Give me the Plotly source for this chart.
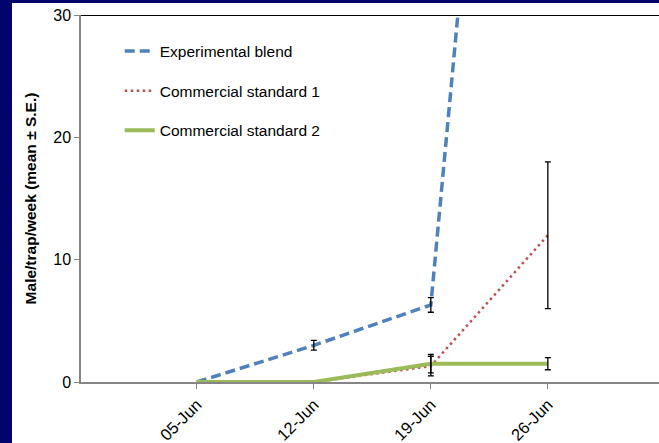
import plotly.graph_objects as go

# Weekly trap catches (mean ± S.E.) for three lures
dates = ["05-Jun", "12-Jun", "19-Jun", "26-Jun"]
experimental = [0.0, 3.0, 6.3, 109.0]
experimental_se = [None, 0.4, 0.6, None]
standard1 = [0.0, 0.0, 1.3, 12.0]
standard1_se = [None, None, 0.8, 6.0]
standard2 = [0.0, 0.0, 1.5, 1.5]
standard2_se = [None, None, 0.75, 0.5]

names = ["Experimental blend", "Commercial standard 1", "Commercial standard 2"]
colors = ["#4F81BD", "#C0504D", "#9BBB59"]
widths = [3.5, 2.5, 4]
dashes = ["10px,5px", "2.5px,3.5px", "solid"]

FONT = "Arial, Liberation Sans, sans-serif"
xpos = list(range(len(dates)))

fig = go.Figure()
series = [(experimental, experimental_se), (standard1, standard1_se), (standard2, standard2_se)]
for i, (vals, se) in enumerate(series):
    fig.add_trace(go.Scatter(
        x=xpos, y=vals, mode="lines", name=names[i],
        legendgroup=names[i],
        line=dict(color=colors[i], width=widths[i], dash=dashes[i]),
    ))

# error bars only where a standard error exists
for i, (vals, se) in enumerate(series):
    idx = [k for k, s in enumerate(se) if s is not None]
    fig.add_trace(go.Scatter(
        x=[xpos[k] for k in idx], y=[vals[k] for k in idx], mode="markers",
        marker=dict(size=1, color="rgba(0,0,0,0)"), showlegend=False,
        hoverinfo="skip",
        error_y=dict(type="data", array=[se[k] for k in idx], color="black",
                     thickness=1.3, width=3),
    ))

PW, PH = 578.0, 367.0
L, T, B = 81, 15, 61
navy = "#03036c"
shapes = [
    # dark frame strips on the left and top edges
    dict(type="rect", xref="paper", yref="paper", x0=-L / PW, x1=(12 - L) / PW,
         y0=-B / PH, y1=(PH + T) / PH, fillcolor=navy, line=dict(width=0)),
    dict(type="rect", xref="paper", yref="paper", x0=-L / PW, x1=1.0,
         y0=(PH + T - 3) / PH, y1=(PH + T) / PH, fillcolor=navy, line=dict(width=0)),
    # top border of the plot area
    dict(type="line", xref="paper", yref="y", x0=0, x1=1, y0=30, y1=30,
         line=dict(color="black", width=2)),
]

fig.update_layout(
    width=659, height=443,
    margin=dict(l=L, r=0, t=T, b=B),
    paper_bgcolor="white", plot_bgcolor="white",
    font=dict(family=FONT, color="black"),
    shapes=shapes,
    showlegend=True,
    legend=dict(x=0.067, y=0.947, xanchor="left", yanchor="top",
                bgcolor="rgba(0,0,0,0)", font=dict(size=15.5, family=FONT),
                tracegroupgap=16.5, itemwidth=30),
    xaxis=dict(range=[-0.99, 3.95], tickmode="array", tickvals=xpos, ticktext=dates,
               tickangle=-45, tickfont=dict(size=16.5), showgrid=False, zeroline=False,
               showline=True, linecolor="#868686", linewidth=1.5,
               ticks="outside", ticklen=5, tickcolor="#868686"),
    yaxis=dict(range=[0, 30], tickvals=[0, 10, 20, 30], tickfont=dict(size=16),
               showgrid=False, zeroline=False, showline=True, linecolor="#868686",
               linewidth=1.5, ticks="outside", ticklen=5, tickcolor="#868686",
               title=dict(text="<b>Male/trap/week (mean ± S.E.)</b>",
                          font=dict(size=15.5), standoff=13)),
)

fig.write_html("out.html")
